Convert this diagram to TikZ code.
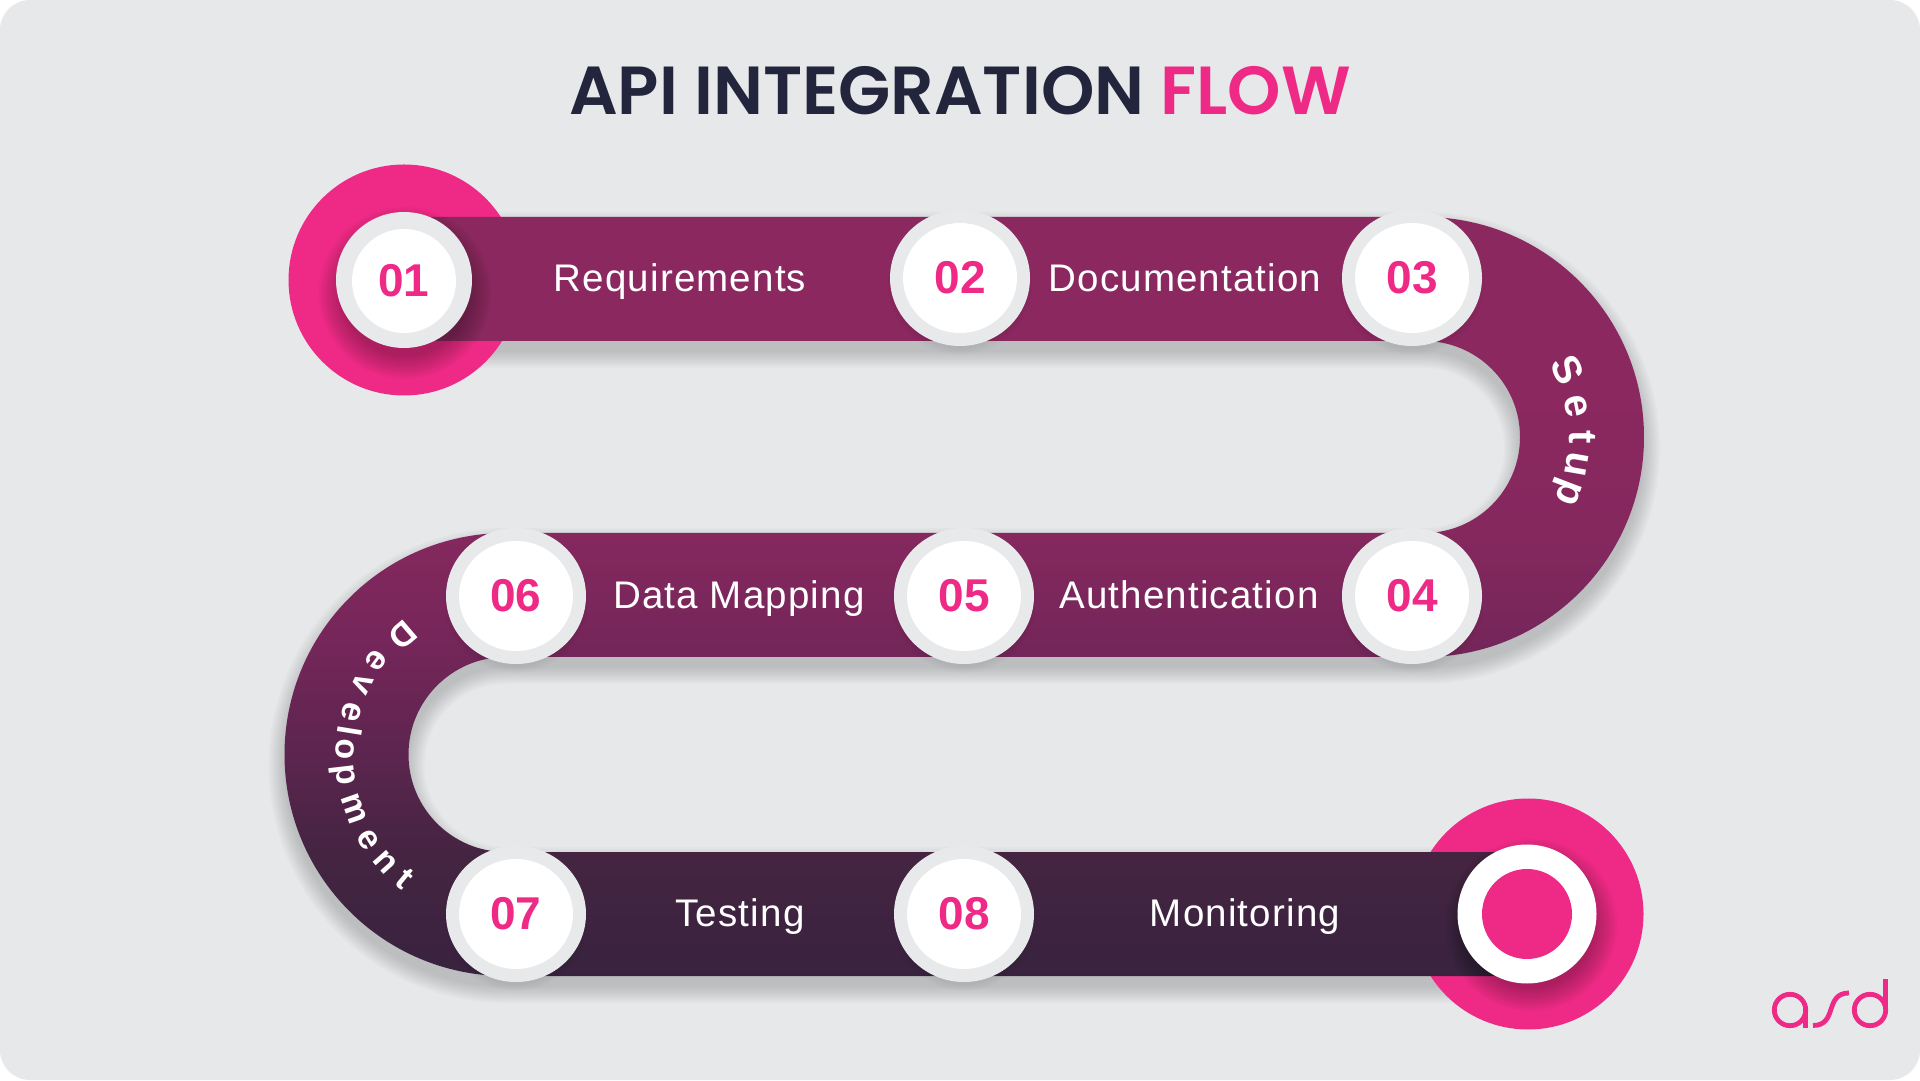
\documentclass[tikz,border=0pt]{standalone}
\usepackage{fontspec}
\usetikzlibrary{shapes.geometric}
\setmainfont[LetterSpace=3]{Liberation Sans}
\newfontfamily\numfont{Liberation Sans}
\newfontfamily\titlefont{Poppins SemiBold}
\definecolor{bgc}{HTML}{E6E8EA}
\definecolor{pinkc}{HTML}{EE2A86}
\definecolor{darkc}{HTML}{22253B}
\definecolor{ringc}{HTML}{E7E9EA}
\pgfdeclareverticalshading{bandgrad}{100bp}{
 rgb(0bp)=(.22,.137,.247); rgb(25bp)=(.22,.137,.247);
 rgb(33.2bp)=(.27,.141,.255); rgb(39.5bp)=(.36,.145,.31);
 rgb(47.1bp)=(.46,.149,.353); rgb(54bp)=(.52,.157,.37);
 rgb(63bp)=(.541,.157,.373); rgb(100bp)=(.541,.157,.373)}
\tikzset{
 x=1pt,y=1pt,
 pinkdisc/.style={circle,fill=pinkc,inner sep=0pt,minimum size=231pt},
 ringdisc/.style={ellipse,fill=ringc,inner sep=0pt,minimum width=140pt,minimum height=136pt},
 numdisc/.style={ellipse,fill=white,inner sep=0pt,minimum width=114pt,minimum height=110pt,text=pinkc,
   font=\numfont\fontsize{46}{48}\selectfont\bfseries},
 label/.style={anchor=base,text=white,font=\fontsize{38.5}{40}\selectfont},
 arcletter/.style={anchor=base,text=white,inner sep=0pt,font=\numfont\fontsize{40}{42}\selectfont\bfseries},
 arcbold/.style={arcletter,font=\numfont\fontsize{34}{36}\selectfont\bfseries},
 logo/.style={draw=pinkc,line width=4.8pt},
}
\begin{document}
\begin{tikzpicture}
\useasboundingbox (0,0) rectangle (1920,1080);
\fill[white] (0,0) rectangle (1920,1080);
\fill[bgc,rounded corners=30pt] (0,0) rectangle (1920,1080);
% band shadow
\foreach \k in {0,2,...,16}{
 \draw[black,opacity=.02,line width={124pt+2*\k pt}]
   (404,790) -- (1424,790) arc[start angle=90,end angle=-90,radius=158]
   -- (506,474) arc[start angle=90,end angle=270,radius=159.5] -- (1528,155);
}
% pink end circles
\node[pinkdisc] (startc) at (404,800) {};
\node[pinkdisc] (endc) at (1528,166) {};
% band
\shade[shading=bandgrad]
  (404,863) -- (1424,863) arc[start angle=90,end angle=-90,radius=220]
  -- (506,423) arc[start angle=90,end angle=270,radius=97.5]
  -- (1528,228) -- (1528,104) -- (506,104)
  arc[start angle=270,end angle=90,radius=221.5]
  -- (1424,547) arc[start angle=-90,end angle=90,radius=96]
  -- (404,739) -- cycle;
% disc shadows
\foreach \k in {0,2,...,22}{
 \fill[black,opacity=.024] (405,787) circle[radius={64+\k}];
 \fill[black,opacity=.024] (1531,155) circle[radius={64+\k}];
}
\foreach \px/\py in {960/802,1412/802,516/484,964/484,1412/484,516/166,964/166}{
 \foreach \k in {0,2,4,6}{
  \fill[black,opacity=.012] (\px,\py-5) circle[radius={66+\k}];
 }
}
% discs
\node[circle,fill=ringc,inner sep=0pt,minimum size=136pt] (r1) at (404,800) {};
\node[circle,fill=white,inner sep=0pt,minimum size=104pt,text=pinkc,
  font=\numfont\fontsize{46}{48}\selectfont\bfseries] (n1) at (404,799) {01};
\node[ringdisc] (r2) at (960,802) {};
\node[numdisc] (n2) at (960,802) {02};
\node[ringdisc] (r3) at (1412,802) {};
\node[numdisc] (n3) at (1412,802) {03};
\node[ringdisc] (r4) at (1412,484) {};
\node[numdisc] (n4) at (1412,484) {04};
\node[ringdisc] (r5) at (964,484) {};
\node[numdisc] (n5) at (964,484) {05};
\node[ringdisc] (r6) at (516,484) {};
\node[numdisc] (n6) at (516,484) {06};
\node[ringdisc] (r7) at (516,166) {};
\node[numdisc] (n7) at (516,166) {07};
\node[ringdisc] (r8) at (964,166) {};
\node[numdisc] (n8) at (964,166) {08};
\node[circle,fill=white,inner sep=0pt,minimum size=139pt] (endw) at (1527,166) {};
\node[circle,fill=pinkc,inner sep=0pt,minimum size=90pt] (endp) at (1527,166) {};
% labels
\node[label] (l1) at (680,788) {Requirements};
\node[label] (l2) at (1185,788) {Documentation};
\node[label] (l3) at (1189,471) {Authentication};
\node[label] (l4) at (739,471) {Data Mapping};
\node[label] (l5) at (740,154) {Testing};
\node[label] (l6) at (1245,154) {Monitoring};
% title
\node[anchor=base,inner sep=0pt,font=\titlefont\fontsize{68}{72}\selectfont] (title) at (960,965)
  {\textcolor{darkc}{API INTEGRATION} \textcolor{pinkc}{FLOW}};
% Setup arc text
\foreach \ch/\a [count=\i] in {S/25,e/11.5,t/0,u/-10,p/-21}{
 \node[arcletter,rotate=\a-90] (su\i) at ({1424+145*cos(\a)},{643+145*sin(\a)}) {\ch};
}
% Development arc text
\foreach \ch/\a [count=\i] in {D/130.6,e/143.7,v/153.3,e/164.2,l/170.8,o/177.5,p/186.7,m/199.3,e/211.3,n/221.5,t/230.4}{
 \node[arcbold,rotate=\a+90] (dv\i) at ({506+170*cos(\a)},{324+170*sin(\a)}) {\ch};
}
% logo
\draw[logo] (1790,70) circle[radius=15.7];
\draw[logo] (1805.7,71) -- (1805.7,52);
\draw[logo] (1813,54.5) .. controls (1838,54.5) and (1824,87) .. (1849,87);
\draw[logo] (1870,70) circle[radius=15.7];
\draw[logo] (1885.7,71) -- (1885.7,101);
\end{tikzpicture}
\end{document}
